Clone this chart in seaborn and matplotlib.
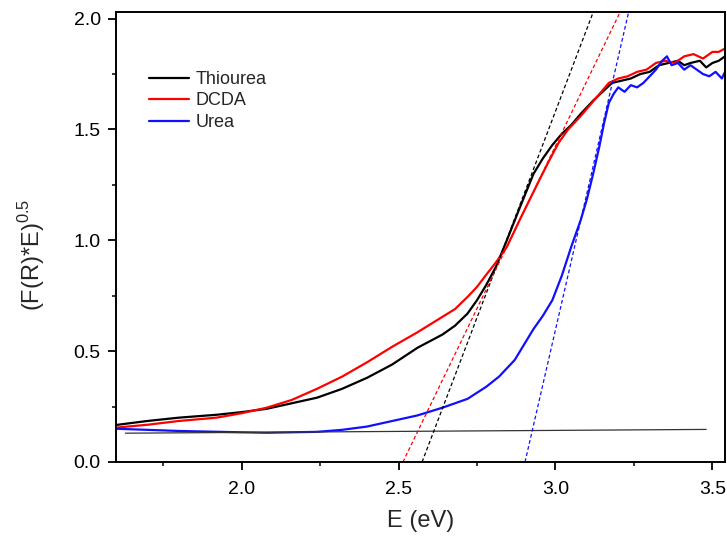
import matplotlib
matplotlib.use('Agg')  # no display
import matplotlib.pyplot as plt
from matplotlib.ticker import MultipleLocator
import pandas as pd
import seaborn as sns

# values
thiourea_e = [1.60, 1.70, 1.80, 1.92, 2.00, 2.08, 2.16, 2.24, 2.32, 2.40, 2.48, 2.56, 2.60,
              2.64, 2.68, 2.72, 2.75, 2.78, 2.81, 2.845, 2.887, 2.93, 2.96, 2.99, 3.02, 3.05,
              3.08, 3.12, 3.15, 3.18, 3.21, 3.24, 3.27, 3.30, 3.33, 3.36, 3.39, 3.41, 3.43,
              3.46, 3.48, 3.50, 3.52, 3.54]
thiourea_y = [0.167, 0.185, 0.200, 0.213, 0.225, 0.240, 0.265, 0.290, 0.330, 0.380, 0.440, 0.515, 0.545,
              0.575, 0.615, 0.670, 0.730, 0.800, 0.880, 1.000, 1.150, 1.300, 1.370, 1.430, 1.480, 1.520,
              1.570, 1.630, 1.670, 1.710, 1.720, 1.730, 1.750, 1.760, 1.790, 1.800, 1.810, 1.790, 1.800,
              1.810, 1.780, 1.800, 1.810, 1.830]

dcda_e = [1.60, 1.70, 1.80, 1.92, 2.00, 2.08, 2.16, 2.24, 2.32, 2.40, 2.48, 2.56, 2.60, 2.64,
          2.68, 2.72, 2.75, 2.78, 2.81, 2.845, 2.887, 2.92, 2.95, 2.98, 3.01, 3.04, 3.08, 3.11,
          3.14, 3.17, 3.20, 3.23, 3.26, 3.29, 3.32, 3.35, 3.38, 3.41, 3.44, 3.47, 3.50, 3.52, 3.54]
dcda_y = [0.155, 0.168, 0.185, 0.200, 0.220, 0.245, 0.280, 0.330, 0.385, 0.450, 0.520, 0.585, 0.620, 0.655,
          0.690, 0.745, 0.790, 0.846, 0.900, 0.970, 1.095, 1.190, 1.276, 1.360, 1.440, 1.500, 1.560, 1.610,
          1.660, 1.710, 1.730, 1.740, 1.760, 1.770, 1.800, 1.810, 1.800, 1.830, 1.840, 1.820, 1.850, 1.850, 1.865]

urea_e = [1.60, 1.70, 1.80, 1.90, 2.00, 2.08, 2.16, 2.24, 2.32, 2.40, 2.48, 2.56, 2.64, 2.72,
          2.78, 2.82, 2.87, 2.90, 2.93, 2.96, 2.99, 3.02, 3.05, 3.08, 3.10, 3.12, 3.14, 3.155,
          3.17, 3.185, 3.20, 3.22, 3.24, 3.26, 3.28, 3.30, 3.32, 3.34, 3.355, 3.37, 3.39, 3.41,
          3.43, 3.45, 3.47, 3.49, 3.51, 3.53, 3.54]
urea_y = [0.150, 0.145, 0.140, 0.137, 0.134, 0.132, 0.134, 0.136, 0.145, 0.160, 0.185, 0.210, 0.245, 0.285,
          0.340, 0.385, 0.460, 0.530, 0.600, 0.660, 0.730, 0.840, 0.970, 1.090, 1.185, 1.300, 1.425, 1.530,
          1.620, 1.660, 1.690, 1.670, 1.700, 1.690, 1.710, 1.740, 1.770, 1.810, 1.830, 1.790, 1.800, 1.770,
          1.790, 1.770, 1.750, 1.740, 1.760, 1.730, 1.760]

# baseline and tangent lines (x at y=0 and x at top of frame)
baseline_e = [1.63, 3.48]
baseline_y = [0.130, 0.147]
tangent_y = [0.0, 2.036]
tangent_thiourea_e = [2.575, 3.122]
tangent_dcda_e = [2.514, 3.208]
tangent_urea_e = [2.903, 3.234]

sns.set_style('ticks')
plt.rcParams['font.family'] = ['Liberation Sans', 'DejaVu Sans']
plt.rcParams['mathtext.fontset'] = 'custom'
plt.rcParams['mathtext.rm'] = 'Liberation Sans'

fig = plt.figure(figsize=(7.27, 5.38), dpi=100)
ax = fig.add_axes([116 / 727, 1 - 462 / 538, (725 - 116) / 727, (462 - 12) / 538])

curves = pd.concat([
    pd.DataFrame({'E': thiourea_e, 'y': thiourea_y, 'sample': 'Thiourea'}),
    pd.DataFrame({'E': dcda_e, 'y': dcda_y, 'sample': 'DCDA'}),
    pd.DataFrame({'E': urea_e, 'y': urea_y, 'sample': 'Urea'}),
])
palette = {'Thiourea': 'black', 'DCDA': '#ff0000', 'Urea': '#1010ff'}

sns.lineplot(data=curves, x='E', y='y', hue='sample', palette=palette, lw=1.6,
             estimator=None, sort=False, ax=ax)

sns.lineplot(x=baseline_e, y=baseline_y, color='#333333', lw=0.9, ax=ax)
for xs, c in [(tangent_thiourea_e, 'black'), (tangent_dcda_e, '#ff0000'), (tangent_urea_e, '#1010ff')]:
    ax.plot(xs, tangent_y, color=c, lw=0.9, ls=(0, (3, 2)))

ax.set_xlim(1.6, 3.54)
ax.set_ylim(0, 2.03)
ax.xaxis.set_major_locator(MultipleLocator(0.5))
ax.xaxis.set_minor_locator(MultipleLocator(0.25))
ax.yaxis.set_major_locator(MultipleLocator(0.5))
ax.yaxis.set_minor_locator(MultipleLocator(0.25))
ax.tick_params(which='major', direction='out', length=6, width=1.3, labelsize=14, colors='black')
ax.tick_params(which='minor', direction='out', length=3, width=1.3)
ax.tick_params(axis='x', which='major', pad=8)
ax.tick_params(axis='y', which='major', pad=5)
for s in ax.spines.values():
    s.set_linewidth(1.4)
    s.set_color('black')

ax.set_xlabel('E (eV)', fontsize=17, labelpad=8)
ax.set_ylabel(r'(F(R)*E)$^{\mathregular{0.5}}$', fontsize=17)
ax.yaxis.set_label_coords(-0.114, 0.46)

ax.legend(loc='upper left', bbox_to_anchor=(0.042, 0.885), frameon=False, fontsize=13,
          handlelength=2.2, handletextpad=0.4, labelspacing=0.25, borderaxespad=0)

plt.savefig('out.png', dpi=100)
plt.close()
